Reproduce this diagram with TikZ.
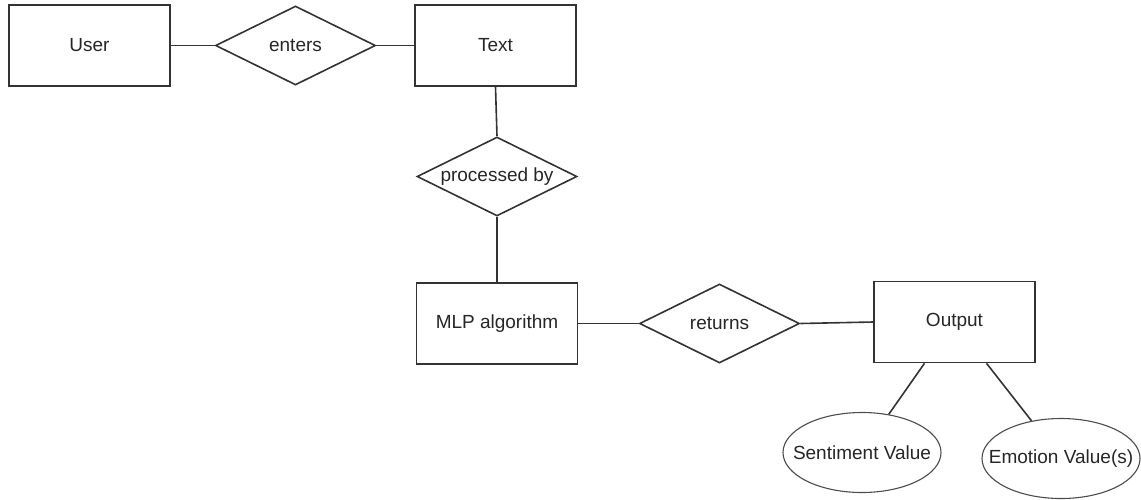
\documentclass[tikz,border=0pt]{standalone}
\usepackage{fontspec}
\setmainfont{Liberation Sans}
\usetikzlibrary{shapes.geometric,calc}
% label whose width does not enlarge its shape
\newcommand{\fixedlabel}[1]{\makebox[0pt]{#1}}
\begin{document}
\begin{tikzpicture}[x=1pt,y=-1pt,
  every node/.style={font=\fontsize{19}{22}\selectfont, text=black!85},
  entity/.style={draw=black!80, line width=1.6pt, rectangle, inner sep=0pt,
    minimum width=161pt, minimum height=81pt},
  relation/.style={draw=black!80, line width=1.6pt, diamond, inner sep=0pt,
    minimum width=160pt, minimum height=79pt},
  attribute/.style={draw=black!70, line width=1.1pt, ellipse, inner sep=0pt,
    minimum width=158pt, minimum height=80pt},
  link/.style={draw=black!80, line width=1.6pt}]
\useasboundingbox (0,0) rectangle (1141,499);

% entities
\node[entity] (user) at (89.5,45.5) {User};
\node[entity] (text) at (495.5,45.5) {Text};
\node[entity] (mlp) at (497,323.5) {MLP algorithm};
\node[entity] (out) at (954.5,322) {Output};

% relationships
\node[relation] (enters) at (295.5,45.5) {\fixedlabel{enters}};
\node[relation] (proc) at (497,176.5) {\fixedlabel{processed by}};
\node[relation] (ret) at (719.5,323.5) {\fixedlabel{returns}};

% attributes
\node[attribute] (sent) at (862,452.5) {\fixedlabel{Sentiment Value}};
\node[attribute] (emo) at (1061,458.5) {\fixedlabel{Emotion Value(s)}};

% connectors
\draw[link] (user.east) -- (enters.west);
\draw[link] (enters.east) -- (text.west);
\draw[link] (text.south) -- (proc.north);
\draw[link] (proc.south) -- (mlp.north);
\draw[link] (mlp.east) -- (ret.west);
\draw[link] (ret.east) -- (out.west);
\draw[link] ($(out.south)+(-30,0)$) -- (sent);
\draw[link] ($(out.south)+(32,0)$) -- (emo);
\end{tikzpicture}
\end{document}
